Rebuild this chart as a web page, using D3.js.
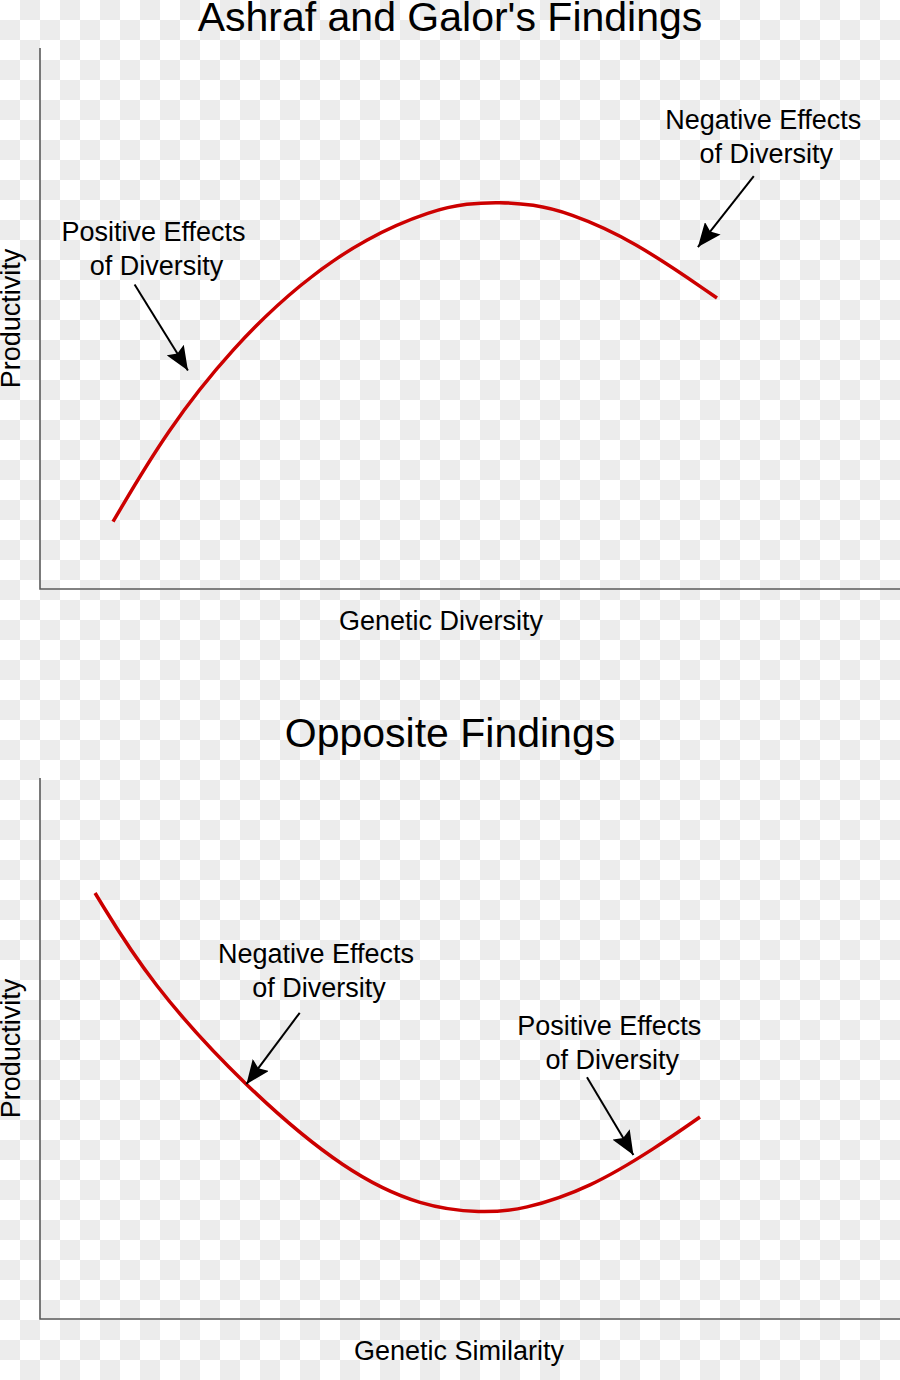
<!DOCTYPE html>
<html>
<head>
<meta charset="utf-8">
<script src="https://cdn.jsdelivr.net/npm/d3@7"></script>
<style>
  body { margin: 0; }
  svg { display: block; font-family: "Liberation Sans", Arial, sans-serif; }
</style>
</head>
<body>
<svg id="chart" width="900" height="1380"></svg>
<script>
// curve, in axis units (0-100 both ways)
var topCurve = [
    [8.49, 12.44], [14.77, 29.39], [22.44, 44.73], [30.23, 56.56],
    [38.02, 65.06], [45.70, 70.06], [49.65, 71.26], [53.49, 71.53],
    [57.33, 71.07], [61.28, 69.69], [68.95, 64.51], [78.72, 53.79]
];
var bottomCurve = [
    [6.40, 78.74], [12.79, 62.11], [23.95, 42.70], [35.70, 26.99],
    [44.53, 20.70], [51.28, 19.59], [56.16, 20.15], [63.95, 24.21],
    [71.74, 31.79], [76.74, 37.34]
];

var titles = ["Ashraf and Galor's Findings", "Opposite Findings"];
var xLabels = ["Genetic Diversity", "Genetic Similarity"];
var yLabel = "Productivity";

// annotations: label lines, label anchor, arrow from -> to (axis units)
var topNotes = [
    { lines: ["Positive Effects", "of Diversity"], at: [13.2, 64.3], from: [11.0, 56.3], to: [17.2, 40.4] },
    { lines: ["Negative Effects", "of Diversity"], at: [84.1, 85.0], from: [83.0, 76.3], to: [76.5, 63.2] }
];
var bottomNotes = [
    { lines: ["Negative Effects", "of Diversity"], at: [32.1, 65.8], from: [30.2, 56.6], to: [24.0, 43.4] },
    { lines: ["Positive Effects", "of Diversity"], at: [66.2, 52.5], from: [63.6, 44.7], to: [69.0, 30.3] }
];

var svg = d3.select("#chart");

// checkered background
var defs = svg.append("defs");
var pat = defs.append("pattern")
    .attr("id", "checker")
    .attr("width", 40).attr("height", 40)
    .attr("patternUnits", "userSpaceOnUse");
pat.append("rect").attr("width", 40).attr("height", 40).attr("fill", "#ffffff");
pat.append("rect").attr("x", 20).attr("y", 0).attr("width", 20).attr("height", 20).attr("fill", "#ececec");
pat.append("rect").attr("x", 0).attr("y", 20).attr("width", 20).attr("height", 20).attr("fill", "#ececec");

defs.append("marker")
    .attr("id", "head")
    .attr("viewBox", "0 0 24 20")
    .attr("refX", 24).attr("refY", 10)
    .attr("markerWidth", 24).attr("markerHeight", 20)
    .attr("markerUnits", "userSpaceOnUse")
    .attr("orient", "auto")
    .append("path")
    .attr("d", "M0,0 L24,10 L0,20 L4,10 Z")
    .attr("fill", "#000");

svg.append("rect").attr("width", 900).attr("height", 1380).attr("fill", "url(#checker)");

function drawPanel(top, bottom, curve, notes, title, titleY, xLabel, xLabelX) {
    var x = d3.scaleLinear().domain([0, 100]).range([40, 900]);
    var y = d3.scaleLinear().domain([0, 100]).range([bottom, top]);

    var g = svg.append("g");

    g.append("text")
        .attr("x", 450).attr("y", titleY)
        .attr("text-anchor", "middle")
        .attr("font-size", 41)
        .text(title);

    g.append("path")
        .attr("d", "M" + x(0) + "," + y(100) + "V" + y(0) + "H" + x(100))
        .attr("fill", "none")
        .attr("stroke", "#5a5a5a")
        .attr("stroke-width", 1.6);

    var line = d3.line()
        .x(function(d) { return x(d[0]); })
        .y(function(d) { return y(d[1]); })
        .curve(d3.curveBasis);

    g.append("path")
        .datum(curve)
        .attr("d", line)
        .attr("fill", "none")
        .attr("stroke", "#cc0000")
        .attr("stroke-width", 3.5);

    notes.forEach(function(n) {
        var t = g.append("text")
            .attr("text-anchor", "middle")
            .attr("font-size", 27);
        n.lines.forEach(function(s, i) {
            t.append("tspan")
                .attr("x", x(n.at[0]) + (i ? 3 : 0))
                .attr("y", y(n.at[1]) + i * 34)
                .text(s);
        });
        g.append("line")
            .attr("x1", x(n.from[0])).attr("y1", y(n.from[1]))
            .attr("x2", x(n.to[0])).attr("y2", y(n.to[1]))
            .attr("stroke", "#000")
            .attr("stroke-width", 2)
            .attr("marker-end", "url(#head)");
    });

    g.append("text")
        .attr("x", xLabelX).attr("y", bottom + 41)
        .attr("text-anchor", "middle")
        .attr("font-size", 27)
        .text(xLabel);

    g.append("text")
        .attr("transform", "translate(20," + ((top + bottom) / 2) + ") rotate(-90)")
        .attr("text-anchor", "middle")
        .attr("font-size", 27)
        .text(yLabel);
}

drawPanel(48, 589, topCurve, topNotes, titles[0], 31, xLabels[0], 441);
drawPanel(778, 1319, bottomCurve, bottomNotes, titles[1], 747, xLabels[1], 459);
</script>
</body>
</html>
